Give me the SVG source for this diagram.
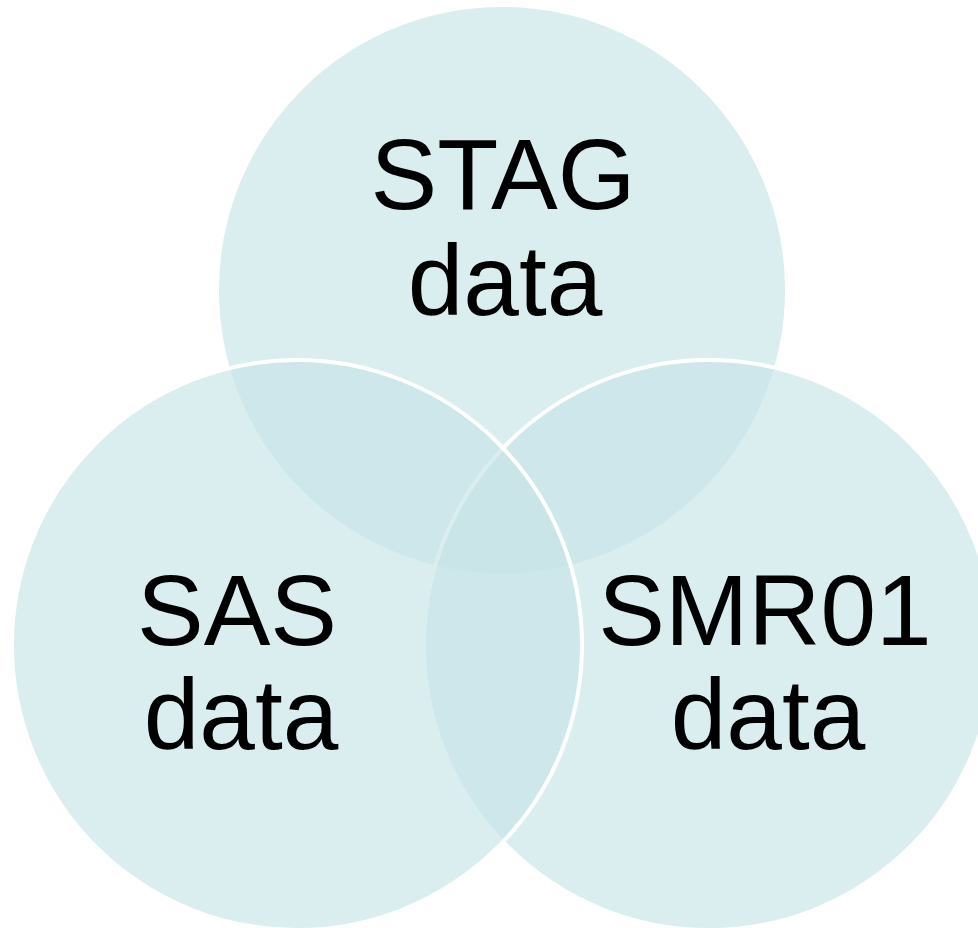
<svg xmlns="http://www.w3.org/2000/svg" width="978" height="928" viewBox="0 0 978 928">
<style>
.c{fill:#C6E3E6;fill-opacity:0.65;stroke:#FFFFFF;stroke-width:4}
.t{font-family:"Liberation Sans",Arial,sans-serif;font-size:100px;fill:#000000;text-anchor:middle}
</style>
<rect width="978" height="928" fill="#FFFFFF"/>
<g id="stag">
<circle class="c" cx="502" cy="290" r="285"/>
</g>
<g id="smr01">
<circle class="c" cx="709" cy="645" r="285"/>
</g>
<g id="sas">
<circle class="c" cx="297" cy="645" r="285"/>
</g>
<g id="labels">
<text class="t" x="503" y="209">STAG</text>
<text class="t" x="505" y="315">data</text>
<text class="t" x="237" y="645">SAS</text>
<text class="t" x="241" y="749">data</text>
<text class="t" x="765" y="645">SMR01</text>
<text class="t" x="768" y="749">data</text>
</g>
<g id="connectors"></g>
</svg>
